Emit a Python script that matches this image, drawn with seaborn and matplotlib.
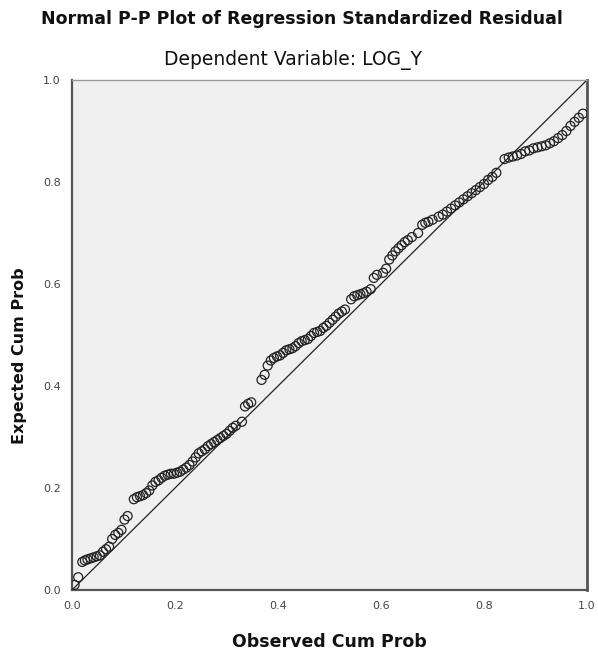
import numpy as np
import pandas as pd
import matplotlib
matplotlib.use("Agg")
import matplotlib.pyplot as plt
import seaborn as sns

# ---- data ----
observed_cum_prob = [
    0.005, 0.012, 0.020, 0.025, 0.030, 0.036, 0.042, 0.048, 0.054, 0.060,
    0.066, 0.072, 0.078, 0.084, 0.090, 0.096, 0.102, 0.108, 0.120, 0.126,
    0.132, 0.138, 0.144, 0.150, 0.156, 0.162, 0.168, 0.174, 0.180, 0.186,
    0.192, 0.198, 0.204, 0.210, 0.216, 0.222, 0.228, 0.234, 0.240, 0.246,
    0.252, 0.258, 0.264, 0.270, 0.276, 0.282, 0.288, 0.294, 0.300, 0.306,
    0.312, 0.318, 0.330, 0.336, 0.342, 0.348, 0.368, 0.374, 0.380, 0.386,
    0.392, 0.398, 0.404, 0.410, 0.416, 0.422, 0.428, 0.434, 0.440, 0.446,
    0.452, 0.458, 0.464, 0.470, 0.476, 0.482, 0.488, 0.494, 0.500, 0.506,
    0.512, 0.518, 0.524, 0.530, 0.542, 0.548, 0.554, 0.560, 0.566, 0.572,
    0.580, 0.586, 0.592, 0.604, 0.610, 0.616, 0.622, 0.628, 0.634, 0.640,
    0.646, 0.652, 0.660, 0.672, 0.680, 0.686, 0.692, 0.700, 0.712, 0.720,
    0.728, 0.736, 0.744, 0.752, 0.760, 0.768, 0.776, 0.784, 0.792, 0.800,
    0.808, 0.816, 0.824, 0.840, 0.848, 0.856, 0.864, 0.872, 0.880, 0.888,
    0.896, 0.904, 0.912, 0.920, 0.928, 0.936, 0.944, 0.952, 0.960, 0.968,
    0.976, 0.984, 0.992,
]
expected_cum_prob = [
    0.010, 0.025, 0.055, 0.058, 0.060, 0.062, 0.064, 0.066, 0.068, 0.075,
    0.080, 0.085, 0.100, 0.108, 0.112, 0.118, 0.138, 0.145, 0.178, 0.182,
    0.184, 0.186, 0.190, 0.195, 0.205, 0.212, 0.215, 0.220, 0.224, 0.226,
    0.228, 0.228, 0.230, 0.232, 0.236, 0.240, 0.245, 0.252, 0.260, 0.268,
    0.272, 0.276, 0.282, 0.286, 0.290, 0.294, 0.298, 0.302, 0.306, 0.312,
    0.318, 0.322, 0.330, 0.360, 0.365, 0.368, 0.412, 0.422, 0.440, 0.450,
    0.455, 0.458, 0.460, 0.465, 0.470, 0.472, 0.474, 0.478, 0.484, 0.488,
    0.490, 0.492, 0.498, 0.504, 0.506, 0.508, 0.514, 0.518, 0.524, 0.530,
    0.536, 0.542, 0.546, 0.550, 0.570, 0.576, 0.578, 0.580, 0.582, 0.585,
    0.590, 0.612, 0.618, 0.622, 0.630, 0.648, 0.656, 0.664, 0.670, 0.676,
    0.682, 0.686, 0.692, 0.700, 0.716, 0.720, 0.722, 0.726, 0.732, 0.736,
    0.742, 0.748, 0.754, 0.760, 0.766, 0.772, 0.778, 0.784, 0.790, 0.796,
    0.804, 0.810, 0.818, 0.845, 0.848, 0.850, 0.852, 0.855, 0.860, 0.862,
    0.866, 0.868, 0.870, 0.872, 0.876, 0.880, 0.886, 0.892, 0.900, 0.910,
    0.918, 0.926, 0.934,
]
reference_line = [0.0, 1.0]
tick_values = [0.0, 0.2, 0.4, 0.6, 0.8, 1.0]
x_tick_labels = ["0.0", "0.2", "0.4", "0.6", "0.8", "1.0"]
y_tick_labels = ["0.0", "0.2", "0.4", "0.6", "0.8", "1.0"]

df = pd.DataFrame({"obs": observed_cum_prob, "exp": expected_cum_prob})

sns.set_style("white")
plt.rcParams["font.family"] = ["DejaVu Sans"]

fig = plt.figure(figsize=(5.98, 6.55), dpi=100)
ax = fig.add_axes([72 / 598, 1 - 590 / 655, 515 / 598, 510 / 655])
ax.set_facecolor("#f0f0f0")

sns.lineplot(x=reference_line, y=reference_line, ax=ax, color="#222222",
             linewidth=0.9, zorder=2)
sns.scatterplot(data=df, x="obs", y="exp", ax=ax, marker="o", s=42,
                facecolor="none", edgecolor="#222222", linewidth=0.9, zorder=3)
for coll in ax.collections:
    coll.set_facecolor("none")
    coll.set_edgecolor("#222222")

ax.set_xlim(0, 1)
ax.set_ylim(0, 1)
ax.set_xticks(tick_values)
ax.set_xticklabels(x_tick_labels)
ax.set_yticks(tick_values)
ax.set_yticklabels(y_tick_labels)
ax.tick_params(axis="both", direction="out", length=5, width=1,
               colors="#555555", labelsize=8, labelcolor="#444444", pad=3)

for side in ["left", "bottom", "right"]:
    ax.spines[side].set_color("#555555")
    ax.spines[side].set_linewidth(1.6)
ax.spines["top"].set_color("#999999")
ax.spines["top"].set_linewidth(1.0)
ax.spines["right"].set_linewidth(2.0)

ax.set_xlabel("Observed Cum Prob", fontsize=12.5, fontweight="bold",
              color="#111111")
ax.xaxis.set_label_coords(0.5, -0.085)
ax.set_ylabel("Expected Cum Prob", fontsize=11.5, fontweight="bold",
              color="#111111")
ax.yaxis.set_label_coords(-0.088, 0.46)

fig.text(0.505, 1 - 19 / 655, "Normal P-P Plot of Regression Standardized Residual",
         ha="center", va="center", fontsize=12.5, fontweight="bold", color="#111111")
fig.text(0.49, 1 - 60 / 655, "Dependent Variable: LOG_Y",
         ha="center", va="center", fontsize=13.5, color="#111111")

fig.savefig("out.png", dpi=100)
